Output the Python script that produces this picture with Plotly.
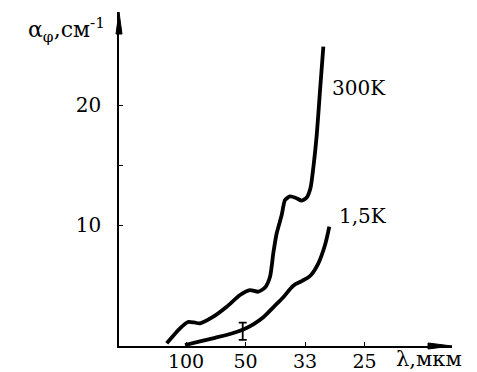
import plotly.graph_objects as go

# x axis is linear in wavenumber (1/λ, cm^-1); tick labels show λ in мкм
x_tickvals = [100, 200, 300, 400]
x_ticktext = ["100", "50", "33", "25"]
y_tickvals = [10, 20]
y_ticktext = ["10", "20"]
y_minor_tickvals = [15]

w_300K = [67.6, 89.9, 103.4, 113.4, 123.5, 145.9, 168.4, 190.8, 207.6, 221.5, 232.8,
          241.2, 246.7, 252.4, 260.8, 266.4, 274.8, 284.9, 294.5, 302.9, 309.2, 314.0,
          319.7, 325.2, 330.8]
a_300K = [0.14, 1.39, 1.92, 1.88, 1.81, 2.36, 3.19, 4.17, 4.58, 4.44, 4.79,
          5.69, 7.64, 9.31, 10.83, 12.08, 12.38, 12.25, 12.03, 12.29, 13.08, 14.8,
          17.5, 21.2, 24.86]

w_15K = [98.3, 123.5, 148.7, 174.0, 196.3, 213.1, 229.9, 246.7, 263.5, 280.3, 294.5,
         308.4, 322.4, 333.6, 340.8]
a_15K = [0.0, 0.3, 0.6, 0.92, 1.3, 1.72, 2.31, 3.14, 3.98, 4.94, 5.33,
         5.75, 6.81, 8.33, 9.86]

err_w = [195.3]
err_a = [1.14]
err_size = [0.72]

label_300K = "300K"
label_15K = "1,5K"

FONT = "DejaVu Serif"

fig = go.Figure()
fig.add_trace(go.Scatter(x=w_300K, y=a_300K, mode="lines",
                         line=dict(color="black", width=3.8, shape="spline", smoothing=0.6),
                         showlegend=False, hoverinfo="skip"))
fig.add_trace(go.Scatter(x=w_15K, y=a_15K, mode="lines",
                         line=dict(color="black", width=3.8, shape="spline", smoothing=0.9),
                         showlegend=False, hoverinfo="skip"))
fig.add_trace(go.Scatter(x=err_w, y=err_a, mode="markers",
                         marker=dict(size=1, color="black"),
                         error_y=dict(type="data", array=err_size, visible=True,
                                      color="black", thickness=1.8, width=4),
                         showlegend=False, hoverinfo="skip"))

# curve labels
fig.add_annotation(x=342, y=21.4, text=label_300K, showarrow=False, xanchor="left",
                   yanchor="middle", font=dict(family=FONT, size=20, color="black"))
fig.add_annotation(x=353, y=10.75, text=label_15K, showarrow=False, xanchor="left",
                   yanchor="middle", font=dict(family=FONT, size=20, color="black"))

# axis titles
fig.add_annotation(xref="paper", yref="paper", x=-0.036, y=0.945,
                   text="α<sub>φ</sub>,см<sup>-1</sup>", showarrow=False,
                   xanchor="right", yanchor="middle",
                   font=dict(family=FONT, size=22, color="black"))
fig.add_annotation(xref="paper", yref="paper", x=0.826, y=-0.04,
                   text="λ,мкм", showarrow=False, xanchor="left", yanchor="middle",
                   font=dict(family=FONT, size=21, color="black"))

# axis arrowheads
fig.add_shape(type="path", xref="paper", yref="paper",
              path="M 0,1 L -0.009,0.934 L 0.009,0.934 Z",
              fillcolor="black", line=dict(color="black", width=1))
fig.add_shape(type="path", xref="paper", yref="paper",
              path="M 1,0 L 0.928,-0.009 L 0.928,0.009 Z",
              fillcolor="black", line=dict(color="black", width=1))

# page body adds an 8px offset; margins compensate so the plot area sits at
# x 119..452, y 12..346 in the browser window
fig.update_layout(
    width=477, height=372,
    margin=dict(l=111, r=33, t=4, b=34),
    paper_bgcolor="white", plot_bgcolor="white",
    font=dict(family=FONT, size=20, color="black"),
    xaxis=dict(range=[-12.6, 547], tickvals=x_tickvals, ticktext=x_ticktext,
               showgrid=False, zeroline=False, showline=True, linecolor="black",
               linewidth=1.5, ticks="inside", ticklen=4, tickcolor="black",
               tickfont=dict(family=FONT, size=19), ticklabelstandoff=-3),
    yaxis=dict(range=[-0.083, 27.75], tickvals=y_tickvals, ticktext=y_ticktext,
               showgrid=False, zeroline=False, showline=True, linecolor="black",
               linewidth=1.5, ticks="inside", ticklen=4, tickcolor="black",
               tickfont=dict(family=FONT, size=20), ticklabelstandoff=12,
               minor=dict(tickvals=y_minor_tickvals, ticks="inside", ticklen=4,
                          tickcolor="black", showgrid=False)),
)

fig.write_html("out.html")
